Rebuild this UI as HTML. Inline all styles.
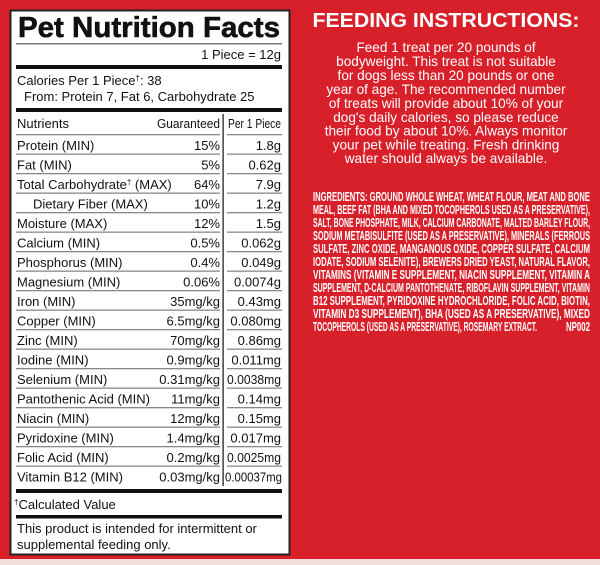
<!DOCTYPE html>
<html><head><style>
html,body{margin:0;padding:0;background:#d7202a;}
svg{display:block}
</style></head><body>
<svg width="600" height="565" xmlns="http://www.w3.org/2000/svg" font-family="Liberation Sans, sans-serif">
<rect width="600" height="565" fill="#d7202a"/>
<rect x="0" y="559" width="600" height="6" fill="#f3dcdc"/>
<rect x="10.5" y="10.5" width="279" height="544" fill="#fff" stroke="#222" stroke-width="2"/>
<text x="18" y="37" font-size="29" font-weight="bold" textLength="262" lengthAdjust="spacingAndGlyphs" fill="#111" stroke="#111" stroke-width="0.6">Pet Nutrition Facts</text>
<rect x="16" y="43" width="266" height="1.5" fill="#777"/>
<text x="281" y="59" font-size="13" text-anchor="end" fill="#111">1 Piece = 12g</text>
<rect x="16" y="65" width="266" height="4" fill="#111"/>
<text x="17" y="85" font-size="13" fill="#111">Calories Per 1 Piece<tspan font-size="8" dy="-4">†</tspan><tspan dy="4">: 38</tspan></text>
<text x="24" y="101" font-size="13" fill="#111">From: Protein 7, Fat 6, Carbohydrate 25</text>
<rect x="16" y="108" width="266" height="4" fill="#111"/>
<rect x="222.5" y="114" width="1.2" height="372" fill="#111"/>
<g font-size="13" fill="#111">
<text x="17" y="128">Nutrients</text><text x="157" y="128" textLength="63" lengthAdjust="spacingAndGlyphs">Guaranteed</text><text x="228" y="128" textLength="53" lengthAdjust="spacingAndGlyphs">Per 1 Piece</text>
</g>
<g fill="#888">
<rect x="16" y="134" width="204" height="1.3"/><rect x="227" y="134" width="55" height="1.3"/>
<rect x="16" y="153.5" width="204" height="1.3"/><rect x="227" y="153.5" width="55" height="1.3"/>
<rect x="16" y="173" width="204" height="1.3"/><rect x="227" y="173" width="55" height="1.3"/>
<rect x="16" y="192.5" width="204" height="1.3"/><rect x="227" y="192.5" width="55" height="1.3"/>
<rect x="16" y="212" width="204" height="1.3"/><rect x="227" y="212" width="55" height="1.3"/>
<rect x="16" y="231.5" width="204" height="1.3"/><rect x="227" y="231.5" width="55" height="1.3"/>
<rect x="16" y="251" width="204" height="1.3"/><rect x="227" y="251" width="55" height="1.3"/>
<rect x="16" y="270.5" width="204" height="1.3"/><rect x="227" y="270.5" width="55" height="1.3"/>
<rect x="16" y="290" width="204" height="1.3"/><rect x="227" y="290" width="55" height="1.3"/>
<rect x="16" y="309.5" width="204" height="1.3"/><rect x="227" y="309.5" width="55" height="1.3"/>
<rect x="16" y="329" width="204" height="1.3"/><rect x="227" y="329" width="55" height="1.3"/>
<rect x="16" y="348.5" width="204" height="1.3"/><rect x="227" y="348.5" width="55" height="1.3"/>
<rect x="16" y="368" width="204" height="1.3"/><rect x="227" y="368" width="55" height="1.3"/>
<rect x="16" y="387.5" width="204" height="1.3"/><rect x="227" y="387.5" width="55" height="1.3"/>
<rect x="16" y="407" width="204" height="1.3"/><rect x="227" y="407" width="55" height="1.3"/>
<rect x="16" y="426.5" width="204" height="1.3"/><rect x="227" y="426.5" width="55" height="1.3"/>
<rect x="16" y="446" width="204" height="1.3"/><rect x="227" y="446" width="55" height="1.3"/>
<rect x="16" y="465.5" width="204" height="1.3"/><rect x="227" y="465.5" width="55" height="1.3"/>
</g>
<g font-size="13" fill="#111">
<text x="17" y="150">Protein (MIN)</text><text x="220" y="150" text-anchor="end">15%</text><text x="281" y="150" text-anchor="end">1.8g</text>
<text x="17" y="169.5">Fat (MIN)</text><text x="220" y="169.5" text-anchor="end">5%</text><text x="281" y="169.5" text-anchor="end">0.62g</text>
<text x="17" y="189">Total Carbohydrate<tspan font-size="8" dy="-4">†</tspan><tspan dy="4"> (MAX)</tspan></text><text x="220" y="189" text-anchor="end">64%</text><text x="281" y="189" text-anchor="end">7.9g</text>
<text x="33" y="208.5">Dietary Fiber (MAX)</text><text x="220" y="208.5" text-anchor="end">10%</text><text x="281" y="208.5" text-anchor="end">1.2g</text>
<text x="17" y="228">Moisture (MAX)</text><text x="220" y="228" text-anchor="end">12%</text><text x="281" y="228" text-anchor="end">1.5g</text>
<text x="17" y="247.5">Calcium (MIN)</text><text x="220" y="247.5" text-anchor="end">0.5%</text><text x="281" y="247.5" text-anchor="end">0.062g</text>
<text x="17" y="267">Phosphorus (MIN)</text><text x="220" y="267" text-anchor="end">0.4%</text><text x="281" y="267" text-anchor="end">0.049g</text>
<text x="17" y="286.5">Magnesium (MIN)</text><text x="220" y="286.5" text-anchor="end">0.06%</text><text x="281" y="286.5" text-anchor="end">0.0074g</text>
<text x="17" y="306">Iron (MIN)</text><text x="220" y="306" text-anchor="end">35mg/kg</text><text x="281" y="306" text-anchor="end">0.43mg</text>
<text x="17" y="325.5">Copper (MIN)</text><text x="220" y="325.5" text-anchor="end">6.5mg/kg</text><text x="281" y="325.5" text-anchor="end">0.080mg</text>
<text x="17" y="345">Zinc (MIN)</text><text x="220" y="345" text-anchor="end">70mg/kg</text><text x="281" y="345" text-anchor="end">0.86mg</text>
<text x="17" y="364.5">Iodine (MIN)</text><text x="220" y="364.5" text-anchor="end">0.9mg/kg</text><text x="281" y="364.5" text-anchor="end">0.011mg</text>
<text x="17" y="384">Selenium (MIN)</text><text x="220" y="384" text-anchor="end">0.31mg/kg</text><text x="227" y="384" textLength="54" lengthAdjust="spacingAndGlyphs">0.0038mg</text>
<text x="17" y="403.5">Pantothenic Acid (MIN)</text><text x="220" y="403.5" text-anchor="end">11mg/kg</text><text x="281" y="403.5" text-anchor="end">0.14mg</text>
<text x="17" y="423">Niacin (MIN)</text><text x="220" y="423" text-anchor="end">12mg/kg</text><text x="281" y="423" text-anchor="end">0.15mg</text>
<text x="17" y="442.5">Pyridoxine (MIN)</text><text x="220" y="442.5" text-anchor="end">1.4mg/kg</text><text x="281" y="442.5" text-anchor="end">0.017mg</text>
<text x="17" y="462">Folic Acid (MIN)</text><text x="220" y="462" text-anchor="end">0.2mg/kg</text><text x="227" y="462" textLength="54" lengthAdjust="spacingAndGlyphs">0.0025mg</text>
<text x="17" y="481.5">Vitamin B12 (MIN)</text><text x="220" y="481.5" text-anchor="end">0.03mg/kg</text><text x="225" y="481.5" textLength="57" lengthAdjust="spacingAndGlyphs">0.00037mg</text>
</g>
<rect x="16" y="489" width="266" height="4" fill="#111"/>
<text x="14" y="509" font-size="13" fill="#111"><tspan font-size="8" dy="-4">†</tspan><tspan dy="4">Calculated Value</tspan></text>
<rect x="16" y="515" width="266" height="3.5" fill="#111"/>
<text x="17" y="533" font-size="13" fill="#111">This product is intended for intermittent or</text>
<text x="17" y="549" font-size="13" fill="#111">supplemental feeding only.</text>

<text x="446" y="27" font-size="20" font-weight="bold" fill="#fff" text-anchor="middle" textLength="267" lengthAdjust="spacingAndGlyphs">FEEDING INSTRUCTIONS:</text>
<g font-size="13.6" fill="#fff" text-anchor="middle">
<text x="446" y="52">Feed 1 treat per 20 pounds of</text>
<text x="446" y="66">bodyweight. This treat is not suitable</text>
<text x="446" y="80">for dogs less than 20 pounds or one</text>
<text x="446" y="94">year of age. The recommended number</text>
<text x="446" y="108">of treats will provide about 10% of your</text>
<text x="446" y="122">dog's daily calories, so please reduce</text>
<text x="446" y="135.5">their food by about 10%. Always monitor</text>
<text x="446" y="149.5">your pet while treating. Fresh drinking</text>
<text x="446" y="163">water should always be available.</text>
</g>
<g font-size="12.5" font-weight="bold" fill="#fff">
<text x="313" y="201" textLength="277" lengthAdjust="spacingAndGlyphs">INGREDIENTS: GROUND WHOLE WHEAT, WHEAT FLOUR, MEAT AND BONE</text>
<text x="313" y="214" textLength="277" lengthAdjust="spacingAndGlyphs">MEAL, BEEF FAT (BHA AND MIXED TOCOPHEROLS USED AS A PRESERVATIVE),</text>
<text x="313" y="227" textLength="277" lengthAdjust="spacingAndGlyphs">SALT, BONE PHOSPHATE, MILK, CALCIUM CARBONATE, MALTED BARLEY FLOUR,</text>
<text x="313" y="240" textLength="277" lengthAdjust="spacingAndGlyphs">SODIUM METABISULFITE (USED AS A PRESERVATIVE), MINERALS (FERROUS</text>
<text x="313" y="253" textLength="277" lengthAdjust="spacingAndGlyphs">SULFATE, ZINC OXIDE, MANGANOUS OXIDE, COPPER SULFATE, CALCIUM</text>
<text x="313" y="266" textLength="277" lengthAdjust="spacingAndGlyphs">IODATE, SODIUM SELENITE), BREWERS DRIED YEAST, NATURAL FLAVOR,</text>
<text x="313" y="279" textLength="277" lengthAdjust="spacingAndGlyphs">VITAMINS (VITAMIN E SUPPLEMENT, NIACIN SUPPLEMENT, VITAMIN A</text>
<text x="313" y="292" textLength="277" lengthAdjust="spacingAndGlyphs">SUPPLEMENT, D-CALCIUM PANTOTHENATE, RIBOFLAVIN SUPPLEMENT, VITAMIN</text>
<text x="313" y="305" textLength="277" lengthAdjust="spacingAndGlyphs">B12 SUPPLEMENT, PYRIDOXINE HYDROCHLORIDE, FOLIC ACID, BIOTIN,</text>
<text x="313" y="318" textLength="277" lengthAdjust="spacingAndGlyphs">VITAMIN D3 SUPPLEMENT), BHA (USED AS A PRESERVATIVE), MIXED</text>
<text x="313" y="331" textLength="224" lengthAdjust="spacingAndGlyphs">TOCOPHEROLS (USED AS A PRESERVATIVE), ROSEMARY EXTRACT.</text>
<text x="566" y="331" textLength="24" lengthAdjust="spacingAndGlyphs">NP002</text>
</g>
</svg>
</body></html>
